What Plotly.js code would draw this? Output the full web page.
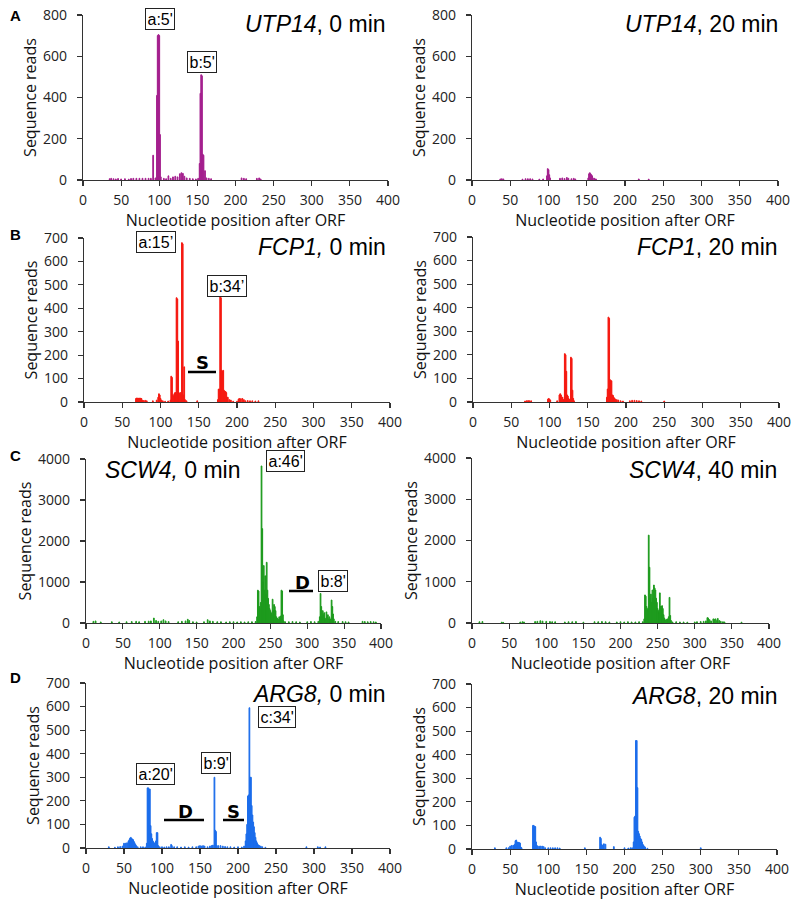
<!DOCTYPE html>
<html>
<head>
<meta charset="utf-8">
<script src="https://cdn.plot.ly/plotly-3.0.1.min.js"></script>
<style>html,body{margin:0;padding:0;background:#fff;}#chart{width:800px;height:900px;}</style>
</head>
<body>
<div id="chart"></div>
<script>
// ---------- DATA (nucleotide position after ORF -> sequence reads) ----------
const utp14_0_pos  = [35,37,40,43,46,50,55,60,63,66,70,74,78,82,86,89,92,95,97,98,99,100,101,102,106,109,112,115,118,121,124,127,129,131,133,136,140,144,148,151,153,154,155,156,157,158,160,162,165,168,208,211,214,228,231,233];
const utp14_0_reads= [6,8,6,5,7,5,6,4,7,8,8,8,8,8,8,8,120,10,410,700,705,700,220,15,8,6,20,8,15,18,15,30,35,32,18,10,8,6,5,8,80,420,510,505,125,120,45,10,8,6,10,8,6,8,10,5];

const utp14_20_pos  = [37,39,41,66,70,73,76,79,88,93,98,99,100,101,102,115,118,121,124,126,130,133,135,152,153,154,155,156,157,158,160,162,218,231];
const utp14_20_reads= [5,6,5,4,6,6,6,5,4,5,20,55,50,25,10,8,10,7,12,8,6,8,5,10,30,35,30,25,20,10,8,5,5,4];

const fcp1_0_pos  = [68,69,70,71,72,73,74,75,76,78,80,82,90,95,97,98,99,100,101,103,106,110,113,114,115,116,117,118,119,120,121,122,123,124,125,126,127,128,129,130,131,132,134,148,175,176,177,178,179,180,181,182,183,184,185,186,187,188,190,192,195,200,202,203,205,207,209,211,214,217,220,224,228];
const fcp1_0_reads= [15,17,16,15,17,14,16,15,8,6,7,5,5,8,20,35,30,15,8,5,3,4,8,110,105,30,25,35,40,40,445,440,260,40,35,40,30,680,675,30,150,10,5,5,10,55,55,450,445,135,130,135,50,45,45,40,20,20,10,8,3,3,12,15,14,15,10,5,6,5,5,4,5];

const fcp1_20_pos  = [68,70,72,74,76,98,99,100,101,110,113,114,115,116,117,118,119,120,121,122,123,124,125,126,127,128,129,130,131,132,175,176,177,178,179,180,181,182,183,184,185,186,188,190,193,196,205,208,211,214,217,220,250];
const fcp1_20_reads= [4,5,6,5,5,12,15,12,8,5,30,35,30,20,20,10,10,205,200,130,30,25,15,10,10,190,185,50,15,5,20,55,360,355,95,90,90,30,28,20,15,12,10,8,5,4,5,7,7,6,5,4,4];

const scw4_0_pos  = [10,13,20,35,45,55,62,68,72,80,85,88,92,95,98,102,105,108,112,125,130,135,138,140,145,150,160,165,168,172,178,183,190,195,200,205,210,215,220,225,230,
  232,233,234,235,236,237,238,239,240,241,242,243,244,245,246,247,248,249,250,251,252,253,254,255,256,257,258,259,260,261,262,263,264,265,266,267,268,270,275,280,285,290,300,305,310,315,
  317,318,319,320,321,322,323,324,325,326,327,328,329,330,331,332,333,334,335,336,338,342,348,352,356,375,378,382,386,390,393];
const scw4_0_reads= [40,50,25,30,25,30,35,40,30,40,45,50,120,60,40,50,80,50,35,30,40,50,90,60,30,25,30,80,50,40,30,30,25,30,30,25,30,25,30,30,35,
  150,800,780,400,350,500,3830,2300,1000,1400,800,1150,700,1480,800,600,450,350,300,250,200,580,300,450,400,300,150,120,100,80,150,120,170,800,780,200,50,30,30,35,30,25,30,35,30,40,
  150,720,400,150,300,200,250,120,80,270,150,200,100,150,80,100,560,400,220,100,40,35,35,30,25,40,35,30,35,30,25];

const scw4_40_pos  = [10,14,40,42,65,68,70,85,88,92,95,100,105,108,112,125,130,135,140,150,165,170,175,180,185,195,200,205,210,215,220,225,230,
  232,233,234,235,236,237,238,239,240,241,242,243,244,245,246,247,248,249,250,251,252,253,254,255,256,257,258,259,260,261,262,263,264,265,266,267,268,270,275,280,285,290,300,303,308,312,315,
  317,318,320,322,325,326,328,330,331,333,335,338,340,363];
const scw4_40_reads= [30,35,20,15,25,30,25,35,40,55,45,40,35,30,30,25,30,30,35,20,30,30,35,30,25,25,30,25,30,25,25,30,30,
  100,680,650,400,300,350,2130,1350,600,700,500,800,600,920,850,800,600,500,350,300,250,730,400,400,420,350,200,120,80,60,80,100,90,150,620,180,60,25,30,25,25,20,25,30,35,40,50,
  130,120,80,50,100,90,100,60,110,60,40,30,25,20];

const arg8_0_pos  = [30,38,42,45,48,50,52,54,56,57,58,59,60,61,62,63,64,65,66,68,72,75,78,80,81,82,83,84,85,86,87,88,89,90,91,92,93,94,95,97,100,103,106,109,112,113,116,120,125,130,135,140,145,148,150,152,154,156,160,163,165,167,169,170,171,172,174,177,180,183,186,190,195,200,205,208,210,211,212,213,214,215,216,217,218,219,220,221,222,223,224,225,226,227,228,230,232,236,290,305,308,315];
const arg8_0_reads= [5,3,5,6,8,20,20,22,30,35,42,45,40,38,35,28,22,15,10,5,5,5,4,20,255,255,250,250,95,60,40,30,25,20,20,30,65,65,10,5,5,4,5,5,15,10,5,5,4,5,4,5,5,8,10,8,10,8,5,8,10,12,300,75,70,10,10,10,8,6,5,5,4,5,4,8,30,60,100,220,225,595,300,300,180,140,110,90,65,45,30,22,15,12,10,8,5,3,5,5,4,5];

const arg8_20_pos  = [30,45,48,50,52,54,55,56,57,58,59,60,61,62,63,64,65,80,81,82,83,84,85,86,88,90,92,94,96,100,103,106,109,112,115,148,168,169,170,171,173,175,186,200,205,208,210,212,213,214,215,216,217,218,219,220,221,222,223,224,225,226,227,230,300];
const arg8_20_reads= [5,5,5,12,15,15,15,20,35,38,30,28,28,27,25,8,5,100,100,95,95,30,15,12,12,12,12,10,5,5,5,5,5,5,4,5,50,45,20,15,22,20,10,5,4,5,5,30,135,140,460,460,260,75,65,55,45,40,30,20,15,10,8,3,5];

const xTicks = [0,50,100,150,200,250,300,350,400];
const yMaxA = 800, yMaxB = 700, yMaxC = 4000, yMaxD = 700;
const panelTitles = ['<i>UTP14</i>, 0 min','<i>UTP14</i>, 20 min','<i>FCP1,</i> 0 min','<i>FCP1</i>, 20 min','<i>SCW4,</i> 0 min','<i>SCW4</i>, 40 min','<i>ARG8,</i> 0 min','<i>ARG8</i>, 20 min'];
const xTitle = 'Nucleotide position after ORF';
const yTitle = 'Sequence reads';

// ---------- LAYOUT ----------
const W = 800, H = 900;
const px = v => v / W;
const py = v => 1 - v / H;

const panels = [
  {pos: utp14_0_pos,  y: utp14_0_reads,  color:'#A4208E', x:[83,388],  yy:[15,180],  max:yMaxA, dt:200},
  {pos: utp14_20_pos, y: utp14_20_reads, color:'#A4208E', x:[472,778], yy:[15,180],  max:yMaxA, dt:200},
  {pos: fcp1_0_pos,   y: fcp1_0_reads,   color:'#F51A12', x:[84,390],  yy:[238,402], max:yMaxB, dt:100},
  {pos: fcp1_20_pos,  y: fcp1_20_reads,  color:'#F51A12', x:[473,779], yy:[237,402], max:yMaxB, dt:100},
  {pos: scw4_0_pos,   y: scw4_0_reads,   color:'#1E9B1E', x:[86,381],  yy:[459,623], max:yMaxC, dt:1000},
  {pos: scw4_40_pos,  y: scw4_40_reads,  color:'#1E9B1E', x:[472,769], yy:[458,623], max:yMaxC, dt:1000},
  {pos: arg8_0_pos,   y: arg8_0_reads,   color:'#1C6DEB', x:[86,390],  yy:[683,848], max:yMaxD, dt:100},
  {pos: arg8_20_pos,  y: arg8_20_reads,  color:'#1C6DEB', x:[472,777], yy:[684,849], max:yMaxD, dt:100}
];

const tickFont = {family:'"Open Sans", sans-serif', size:14, color:'#222'};
const titleFont = {family:'"Open Sans", sans-serif', size:16, color:'#111'};

const data = [];
const layout = {
  width: W, height: H,
  margin: {l:0, r:0, t:0, b:0},
  paper_bgcolor: '#fff', plot_bgcolor: '#fff',
  showlegend: false,
  bargap: 0,
  annotations: [],
  shapes: []
};

panels.forEach((p, i) => {
  const n = i + 1;
  const xa = 'xaxis' + (n === 1 ? '' : n);
  const ya = 'yaxis' + (n === 1 ? '' : n);
  data.push({
    type: 'bar', x: p.pos, y: p.y, width: 1,
    xaxis: 'x' + (n === 1 ? '' : n), yaxis: 'y' + (n === 1 ? '' : n),
    marker: {color: p.color, line: {color: p.color, width: 1}},
    hoverinfo: 'x+y'
  });
  layout[xa] = {
    domain: [px(p.x[0]), px(p.x[1])],
    anchor: 'y' + (n === 1 ? '' : n),
    range: [0, 400], tickvals: xTicks, ticktext: xTicks.map(String),
    showgrid: false, zeroline: false, showline: true, linecolor: '#333', linewidth: 1.2,
    ticks: 'outside', ticklen: 5, tickwidth: 1.2, tickcolor: '#333',
    tickfont: tickFont, ticklabelstandoff: 2,
    title: {text: xTitle, font: titleFont, standoff: 0}
  };
  layout[ya] = {
    domain: [py(p.yy[1]), py(p.yy[0])],
    anchor: 'x' + (n === 1 ? '' : n),
    range: [0, p.max], dtick: p.dt, tick0: 0,
    showgrid: false, zeroline: false, showline: true, linecolor: '#333', linewidth: 1.2,
    ticks: 'outside', ticklen: 5, tickwidth: 1.2, tickcolor: '#333',
    tickfont: tickFont, ticklabelstandoff: 7,
    title: {text: yTitle, font: titleFont, standoff: 2}
  };
});

const A = layout.annotations;
const titleF = {family:'"Liberation Sans", Arial, sans-serif', size:23, color:'#000'};
// panel titles
[[388,24,'right'],[780,24,'right'],[388,247,'right'],[780,247,'right'],[103,470,'left'],[779,470,'right'],[388,694,'right'],[779,696,'right']]
.forEach((t, i) => A.push({xref:'paper', yref:'paper', x:px(t[0]), y:py(t[1]), xanchor:t[2], yanchor:'middle', text:panelTitles[i], showarrow:false, font:titleF}));

// panel letters
const letterF = {family:'"Liberation Sans", Arial, sans-serif', size:15, color:'#000'};
[['A',15,15],['B',15,235],['C',15,455],['D',15,677]].forEach(l =>
  A.push({xref:'paper', yref:'paper', x:px(l[1]), y:py(l[2]), xanchor:'center', yanchor:'middle', text:'<b>'+l[0]+'</b>', showarrow:false, font:letterF}));

// boxed peak labels
const boxF = {family:'"Liberation Sans", Arial, sans-serif', size:16, color:'#000'};
[["a:5'",160,19],["b:5'",202,62],["a:15’",156,242],["b:34’",227,286],["a:46'",285,461],["b:8'",333,581],["c:34'",277,717],["b:9'",216,763],["a:20'",155,774]]
.forEach(b => A.push({xref:'paper', yref:'paper', x:px(b[1]), y:py(b[2]), xanchor:'center', yanchor:'middle', text:b[0], showarrow:false, font:boxF, bordercolor:'#222', borderwidth:1, borderpad:1.5, bgcolor:'#fff'}));

// S / D markers with bars
const markF = {family:'"DejaVu Sans", Verdana, sans-serif', size:18, color:'#000'};
[['S',202,362,188,216,372],['D',302,582,289,313,591],['D',185,811,164,204,820],['S',233,811,223,244,820]]
.forEach(m => {
  A.push({xref:'paper', yref:'paper', x:px(m[1]), y:py(m[2]), xanchor:'center', yanchor:'middle', text:'<b>'+m[0]+'</b>', showarrow:false, font:markF});
  layout.shapes.push({type:'line', xref:'paper', yref:'paper', x0:px(m[3]), x1:px(m[4]), y0:py(m[5]), y1:py(m[5]), line:{color:'#000', width:2.5}});
});

Plotly.newPlot('chart', data, layout, {staticPlot:true});
</script>
</body>
</html>
